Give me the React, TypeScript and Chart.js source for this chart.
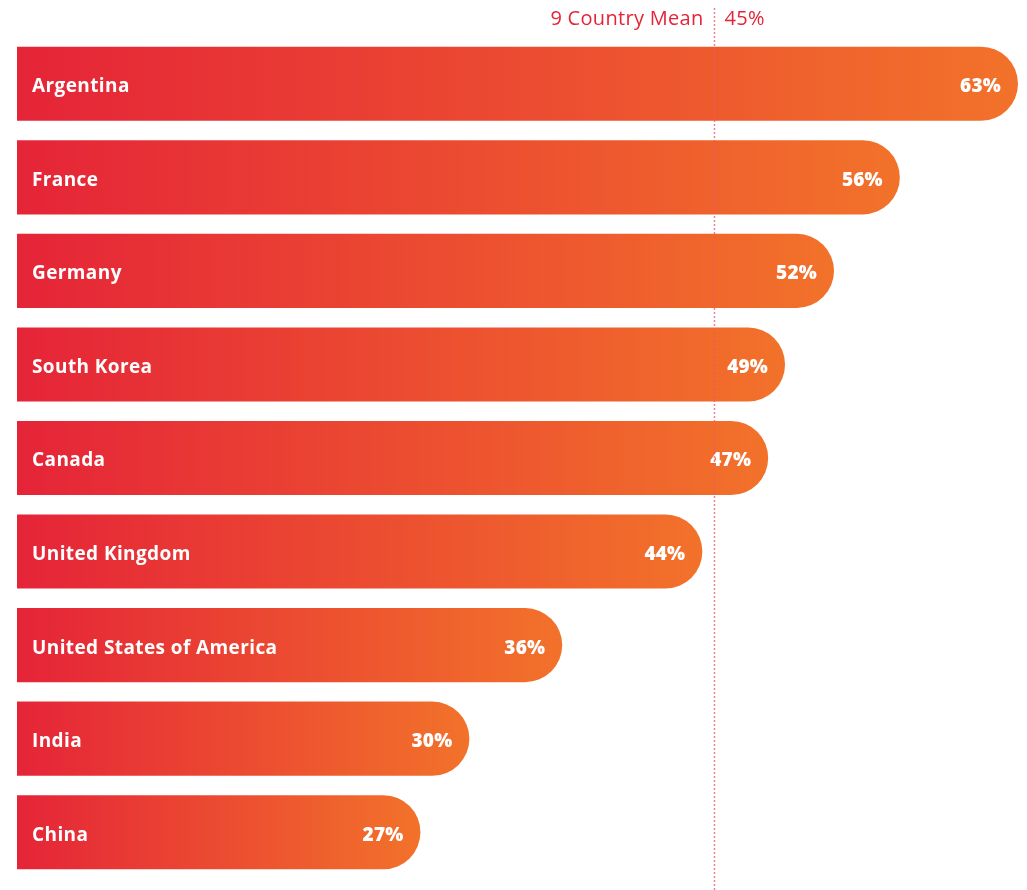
import React, { useEffect, useRef } from "react";
import { Chart, registerables } from "chart.js";

Chart.register(...registerables);

const countries = [
  "Argentina",
  "France",
  "Germany",
  "South Korea",
  "Canada",
  "United Kingdom",
  "United States of America",
  "India",
  "China",
];
// bar lengths
const values = [63, 56, 52.1, 49.2, 48.2, 44.3, 36, 30.5, 27.6];
const valueLabels = ["63%", "56%", "52%", "49%", "47%", "44%", "36%", "30%", "27%"];
const meanValue = 45;
const meanLabel = "9 Country Mean";
const meanValueLabel = "45%";

const RED = "#E52438";
const ORANGE = "#F2722A";

const labelsPlugin = {
  id: "barLabels",
  afterDatasetsDraw(chart: any) {
    const ctx = chart.ctx;
    const meta = chart.getDatasetMeta(0);
    const xs = chart.scales.x;
    ctx.save();
    ctx.fillStyle = "#ffffff";
    ctx.textBaseline = "middle";
    meta.data.forEach((bar: any, i: number) => {
      ctx.font = "bold 19px 'Open Sans'";
      (ctx as any).letterSpacing = "0.4px";
      ctx.textAlign = "left";
      ctx.fillText(countries[i], xs.left + 15, bar.y + 3);
      ctx.font = "800 19px 'Open Sans'";
      (ctx as any).letterSpacing = "0.2px";
      ctx.textAlign = "right";
      ctx.fillText(valueLabels[i], bar.x - 17, bar.y + 3);
    });
    (ctx as any).letterSpacing = "0px";
    // mean line
    const mx = Math.round(xs.getPixelForValue(meanValue)) + 0.5;
    ctx.strokeStyle = "rgba(236, 90, 100, 0.75)";
    ctx.lineWidth = 1.5;
    ctx.setLineDash([2, 2]);
    ctx.beginPath();
    ctx.moveTo(mx, 8);
    ctx.lineTo(mx, chart.height);
    ctx.stroke();
    ctx.setLineDash([]);
    ctx.fillStyle = "#E52438";
    ctx.font = "20px 'Open Sans'";
    (ctx as any).letterSpacing = "0.3px";
    ctx.textBaseline = "middle";
    ctx.textAlign = "right";
    ctx.fillText(meanLabel, mx - 11, 19);
    ctx.textAlign = "left";
    ctx.fillText(meanValueLabel, mx + 10, 19);
    ctx.restore();
  },
};

export default function App() {
  const ref = useRef<HTMLCanvasElement>(null);
  useEffect(() => {
    document.body.style.margin = "0";
    const chart = new Chart(ref.current!, {
      type: "bar",
      data: {
        labels: countries,
        datasets: [
          {
            data: values,
            backgroundColor: (c: any) => {
              const chart = c.chart;
              const xs = chart.scales?.x;
              if (!chart.chartArea || !xs || c.dataIndex === undefined) return RED;
              const end = xs.getPixelForValue(values[c.dataIndex]);
              const g = chart.ctx.createLinearGradient(xs.left, 0, end, 0);
              g.addColorStop(0, RED);
              g.addColorStop(1, ORANGE);
              return g;
            },
            borderRadius: { topRight: 37, bottomRight: 37, topLeft: 0, bottomLeft: 0 },
            borderSkipped: "start",
            barPercentage: 0.792,
            categoryPercentage: 1,
          },
        ],
      },
      options: {
        indexAxis: "y",
        animation: false,
        responsive: false,
        maintainAspectRatio: false,
        layout: { padding: { left: 17, right: 9, top: 37, bottom: 11 } },
        scales: {
          x: { display: false, min: 3.7, max: 63 },
          y: { display: false },
        },
        plugins: {
          legend: { display: false },
          tooltip: { enabled: false },
        },
      },
      plugins: [labelsPlugin],
    });
    return () => chart.destroy();
  }, []);
  return (
    <div style={{ width: 1027, height: 890 }}>
      <canvas ref={ref} width={1027} height={890} style={{ display: "block" }} />
    </div>
  );
}
